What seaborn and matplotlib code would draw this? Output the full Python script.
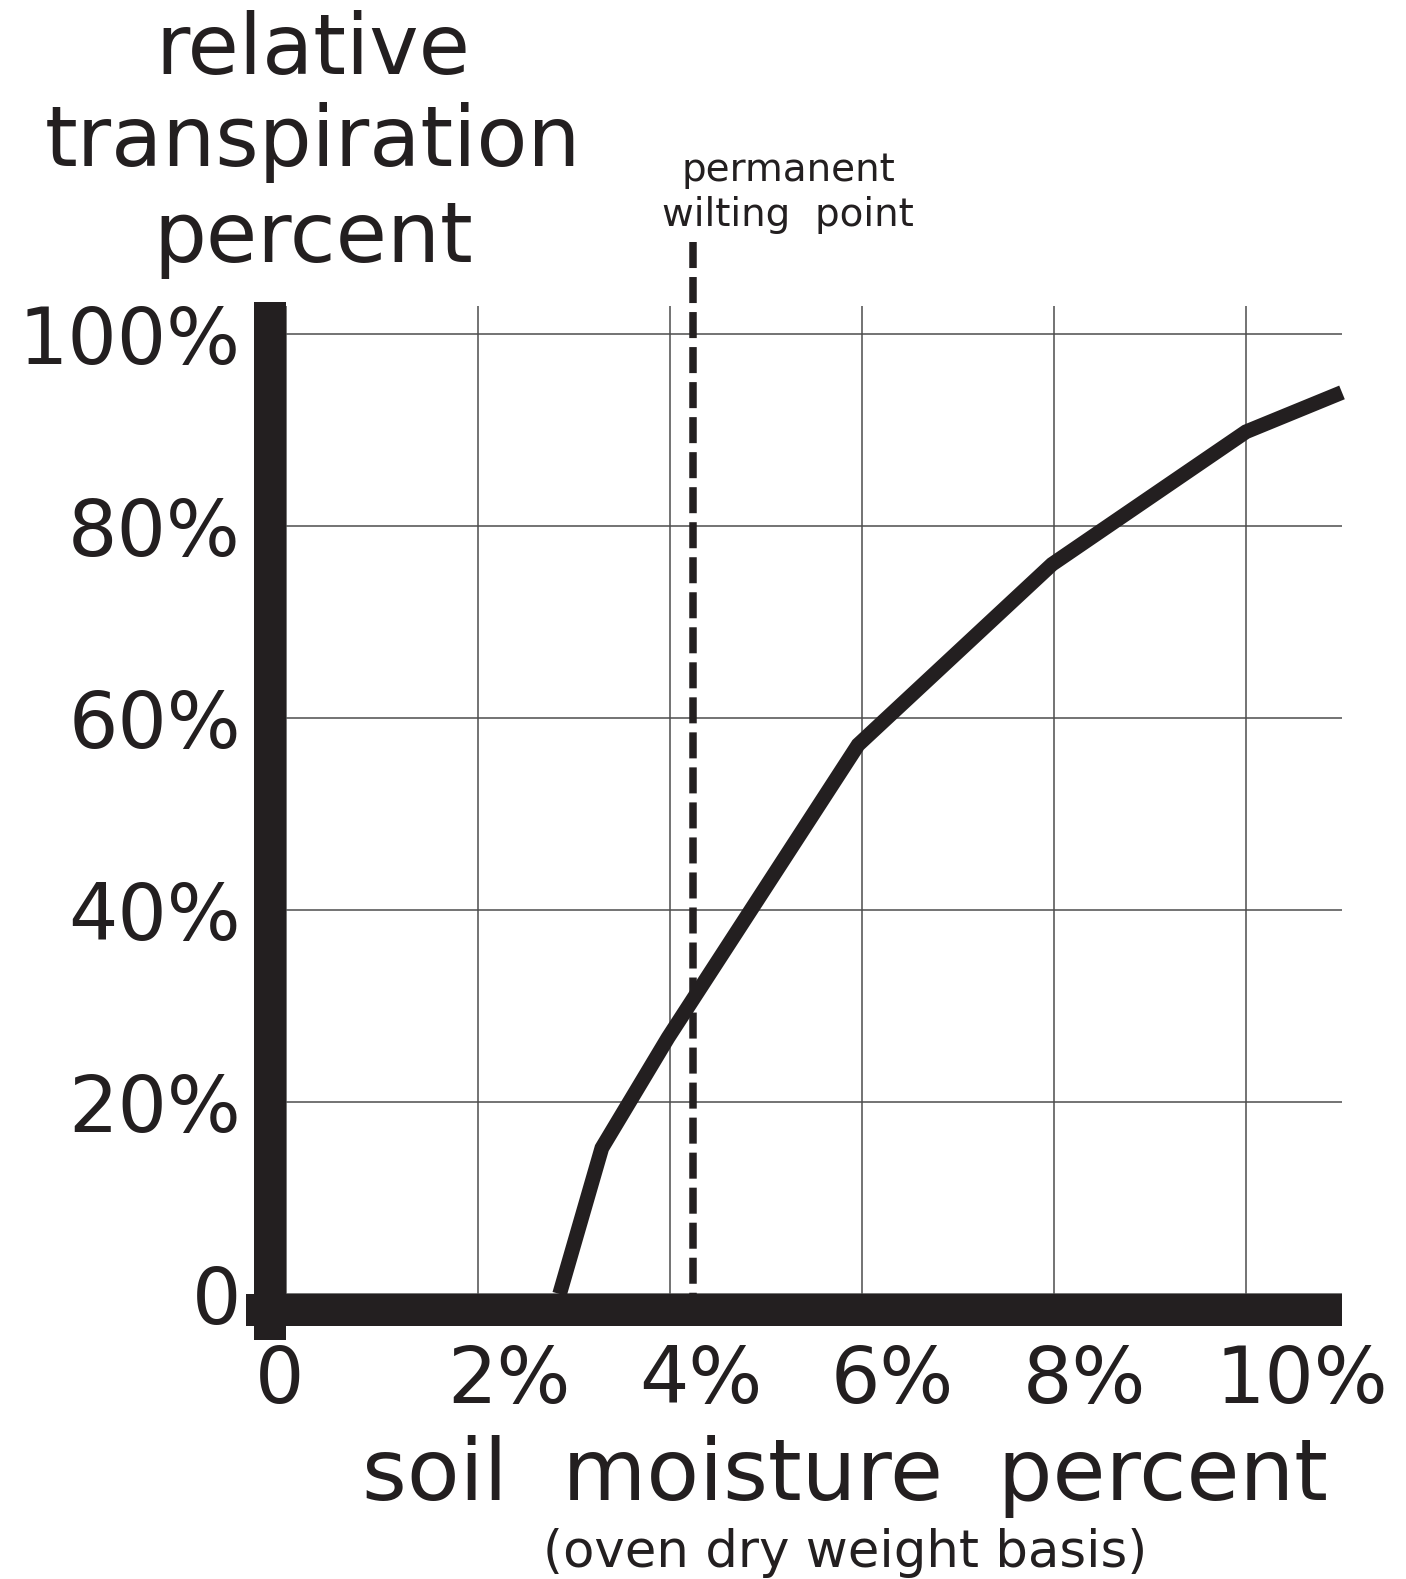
import matplotlib
matplotlib.use("Agg")
import matplotlib.pyplot as plt
import matplotlib.transforms as mtransforms
import seaborn as sns

# values
moisture = [2.85, 3.29, 3.98, 5.96, 7.98, 10.0, 11.0]        # soil moisture %
transpiration = [0.0, 15.2, 26.7, 57.2, 76.0, 89.8, 93.9]     # relative transpiration %
wilting_point = 4.24
x_ticks = [0, 2, 4, 6, 8, 10]
x_labels = ["0", "2%", "4%", "6%", "8%", "10%"]
y_ticks = [0, 20, 40, 60, 80, 100]
y_labels = ["0", "20%", "40%", "60%", "80%", "100%"]

ink = "#231f20"
W, H = 1406, 1579

sns.set_theme(style="white")
plt.rcParams["font.family"] = ["DejaVu Sans"]

fig = plt.figure(figsize=(W / 100, H / 100), dpi=100)
ax = fig.add_axes([286 / W, (H - 1294) / H, 1056 / W, 988 / H])
ax.set_xlim(0, 11)
ax.set_ylim(0, 102.9)

# thin grid
ax.set_xticks(x_ticks)
ax.set_xticklabels(x_labels)
ax.set_yticks(y_ticks)
ax.set_yticklabels(y_labels)
ax.grid(True, color="#4d4d4d", linewidth=1.1)
ax.set_axisbelow(True)

# wilting point marker (drawn top-down so the dash pattern starts at the top)
ax.vlines(wilting_point, 109.6, 0, colors=ink, linewidth=5.4,
          linestyles=(0, (3.47, 1.2)), zorder=2, clip_on=False)

# response curve
sns.lineplot(x=moisture, y=transpiration, color=ink, linewidth=10.6, ax=ax,
             zorder=3, clip_on=False)
for ln in ax.get_lines():
    ln.set_solid_joinstyle("miter")
    ln.set_solid_capstyle("butt")

# heavy axes
for side in ["top", "right"]:
    ax.spines[side].set_visible(False)
for side in ["left", "bottom"]:
    sp = ax.spines[side]
    sp.set_position(("outward", 11.52))
    sp.set_linewidth(23.04)
    sp.set_color(ink)
    sp.set_capstyle("butt")
    sp.set_zorder(4)
ax.spines["left"].set_bounds(-4.8, 103.3)
ax.spines["bottom"].set_bounds(-0.417, 11)

ax.tick_params(axis="both", length=0, labelsize=56, colors=ink)
ax.tick_params(axis="y", pad=21)
ax.tick_params(axis="x", pad=24)
offset = mtransforms.ScaledTranslation(-31 / 100, 0, fig.dpi_scale_trans)
for lab in ax.get_xticklabels():
    lab.set_horizontalalignment("left")
    lab.set_transform(lab.get_transform() + offset)


def fx(px):
    return px / W


def fy(py):
    return 1 - py / H


# y-axis title
for txt, base in [("relative", 74), ("transpiration", 166), ("percent", 262)]:
    fig.text(fx(313), fy(base), txt, ha="center", va="baseline",
             fontsize=60, color=ink)

# annotation
fig.text(fx(788), fy(181), "permanent", ha="center", va="baseline",
         fontsize=28, color=ink)
fig.text(fx(788), fy(226), "wilting  point", ha="center", va="baseline",
         fontsize=28, color=ink)

# x-axis title
fig.text(fx(845), fy(1500), "soil  moisture  percent", ha="center",
         va="baseline", fontsize=62, color=ink)
fig.text(fx(845), fy(1567), "(oven dry weight basis)", ha="center",
         va="baseline", fontsize=37, color=ink)

fig.savefig("out.png", dpi=100, facecolor="white")
